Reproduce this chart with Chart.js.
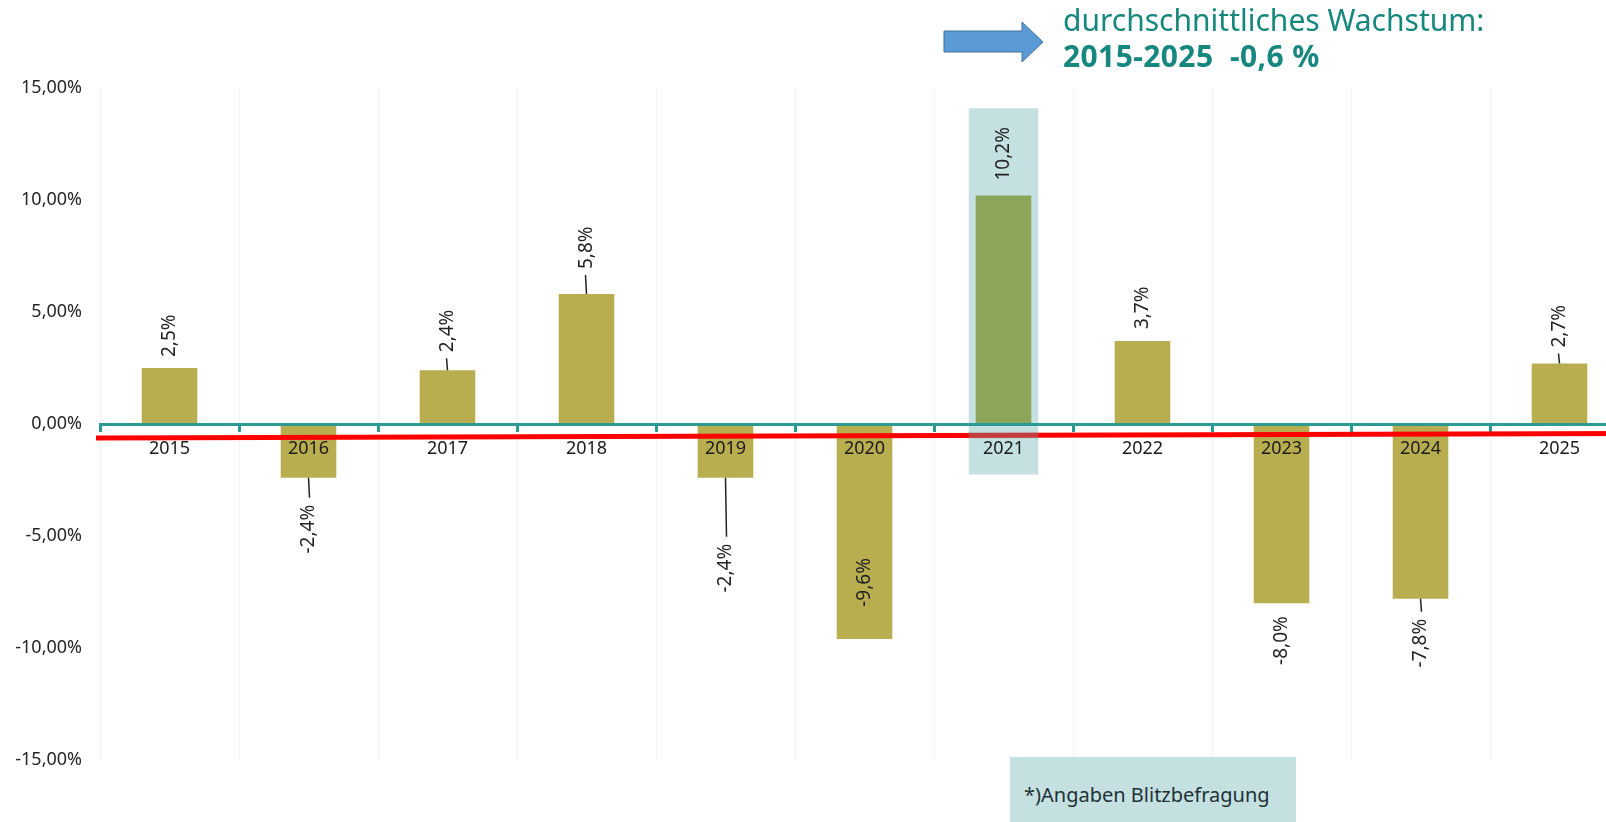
<!DOCTYPE html>
<html>
<head>
<meta charset="utf-8">
<script src="https://cdn.jsdelivr.net/npm/chart.js@4.4.1/dist/chart.umd.min.js"></script>
<style>
  html, body { margin: 0; padding: 0; background: #fff; overflow: hidden; width: 1606px; height: 822px; }
  #wrap { position: absolute; left: 0; top: 0; width: 1629px; height: 822px; }
  .titel { position: absolute; left: 1063px; color: #16877e; font-family: "Noto Sans", sans-serif; white-space: pre; line-height: 1; }
  #t1 { top: 5px; font-size: 30px; }
  #t2 { top: 41px; font-size: 30px; font-weight: bold; letter-spacing: 0.4px; }
  #pfeil { position: absolute; left: 943px; top: 21px; }
  #fussnote { position: absolute; left: 1010px; top: 757px; width: 286px; height: 70px; background: #c5e0e1;
    font-family: "Noto Sans", sans-serif; font-size: 20px; color: #1e3236; }
  #fussnote span { position: absolute; left: 14px; top: 24px; }
</style>
</head>
<body>
<div id="wrap"><canvas id="wachstum" width="1629" height="822"></canvas></div>

<svg id="pfeil" width="102" height="42">
  <polygon points="1,10 79,10 79,1 100,21 79,41 79,31 1,31" fill="#5b9bd5" stroke="#41719c" stroke-width="1"/>
</svg>
<div class="titel" id="t1">durchschnittliches Wachstum:</div>
<div class="titel" id="t2">2015-2025  -0,6 %</div>
<div id="fussnote"><span>*)Angaben Blitzbefragung</span></div>

<script>
    // DATEN
    const jahre = ['2015', '2016', '2017', '2018', '2019', '2020', '2021', '2022', '2023', '2024', '2025'];
    const wachstum = [2.5, -2.4, 2.4, 5.8, -2.4, -9.6, 10.2, 3.7, -8.0, -7.8, 2.7];
    const markierung = [null, null, null, null, null, null, [-2.25, 14.1], null, null, null, null];
    const durchschnitt = [-0.63, -0.42];   // rote Linie, Anfang und Ende
    const yTicks = [-15, -10, -5, 0, 5, 10, 15];

    // Abstand Beschriftung zum Balkenende (px) und ob Führungslinie
    const labelAbstand = [11, 27, 18, 25, 66, -81, 15, 12, 13, 20, 16];
    const fuehrung = [false, true, true, true, true, false, false, false, false, true, true];

    const farben = jahre.map(j => j === '2021' ? '#8ba65a' : '#b8ae50');

    function komma(v, n) {
        return v.toFixed(n).replace('.', ',') + '%';
    }

    // rote Durchschnittslinie + Wertebeschriftung
    const extras = {
        id: 'extras',
        afterDatasetsDraw(chart) {
            const ctx = chart.ctx;
            const y = chart.scales.y;
            const area = chart.chartArea;
            const xa = area.left - 4;
            const y0 = y.getPixelForValue(durchschnitt[0]);
            const y1 = y.getPixelForValue(durchschnitt[1]);

            ctx.save();
            ctx.strokeStyle = '#ff0000';
            ctx.lineWidth = 5;
            ctx.beginPath();
            ctx.moveTo(xa, y0);
            ctx.lineTo(area.right, y1);
            ctx.stroke();

            // Markierung liegt halb durchsichtig über der Linie
            const box = chart.getDatasetMeta(0).data[6];
            const half = box.width / 2;
            const ym = y0 + (y1 - y0) * (box.x - xa) / (area.right - xa);
            ctx.fillStyle = 'rgba(110, 150, 152, 0.4)';
            ctx.fillRect(box.x - half, ym - 3, box.width, 6);
            ctx.restore();

            const meta = chart.getDatasetMeta(1);
            meta.data.forEach((bar, i) => {
                const v = wachstum[i];
                const ende = bar.y;
                const gap = labelAbstand[i];
                const anker = v >= 0 ? ende - gap : ende + gap;
                ctx.save();
                if (fuehrung[i]) {
                    ctx.strokeStyle = '#222';
                    ctx.lineWidth = 1.5;
                    ctx.beginPath();
                    ctx.moveTo(bar.x, ende);
                    ctx.lineTo(bar.x + (v >= 0 ? -1 : 1), v >= 0 ? anker + 6 : anker - 7);
                    ctx.stroke();
                }
                ctx.translate(bar.x, anker);
                ctx.rotate(-Math.PI / 2);
                ctx.font = '19px "Noto Sans"';
                ctx.fillStyle = '#222';
                ctx.textBaseline = 'middle';
                ctx.textAlign = v >= 0 ? 'left' : 'right';
                ctx.fillText(komma(v, 1), 0, 0);
                ctx.restore();
            });
        }
    };

    var ctxWachstum = document.getElementById('wachstum').getContext('2d');

    var graficoWachstum = new Chart(ctxWachstum, {
        type: 'bar',
        data: {
            labels: jahre,
            datasets: [
                {
                    label: 'Markierung',
                    data: markierung,
                    backgroundColor: '#c5e0e1',
                    barPercentage: 0.5,
                    categoryPercentage: 1,
                    grouped: false,
                    order: 2
                },
                {
                    label: 'Wachstum',
                    data: wachstum,
                    backgroundColor: farben,
                    barPercentage: 0.4,
                    categoryPercentage: 1,
                    grouped: false,
                    order: 1
                }
            ]
        },
        options: {
            responsive: false,
            animation: false,
            layout: { padding: { top: 88, bottom: 62, left: 0, right: 0 } },
            plugins: {
                legend: { display: false },
                tooltip: { enabled: false }
            },
            scales: {
                x: {
                    position: { y: 0 },
                    offset: true,
                    afterFit: s => { s.height = 0; },
                    grid: {
                        color: '#f2f2f2',
                        lineWidth: 1,
                        tickColor: '#2a9a92',
                        tickWidth: 3,
                        tickLength: 6,
                        offset: true,
                        z: -1
                    },
                    border: { color: '#2a9a92', width: 3, z: 1 },
                    ticks: {
                        font: { family: 'Noto Sans', size: 18 },
                        color: '#1a1a1a',
                        padding: 8,
                        maxRotation: 0,
                        z: 1
                    }
                },
                y: {
                    min: -15,
                    max: 15,
                    afterFit: s => { s.width = 100; },
                    afterBuildTicks: s => { s.ticks = yTicks.map(v => ({ value: v })); },
                    grid: { display: false, drawTicks: false },
                    border: { display: false },
                    ticks: {
                        font: { family: 'Noto Sans', size: 18 },
                        color: '#262626',
                        padding: 18,
                        callback: v => komma(v, 2)
                    }
                }
            }
        },
        plugins: [extras]
    });
</script>
</body>
</html>
